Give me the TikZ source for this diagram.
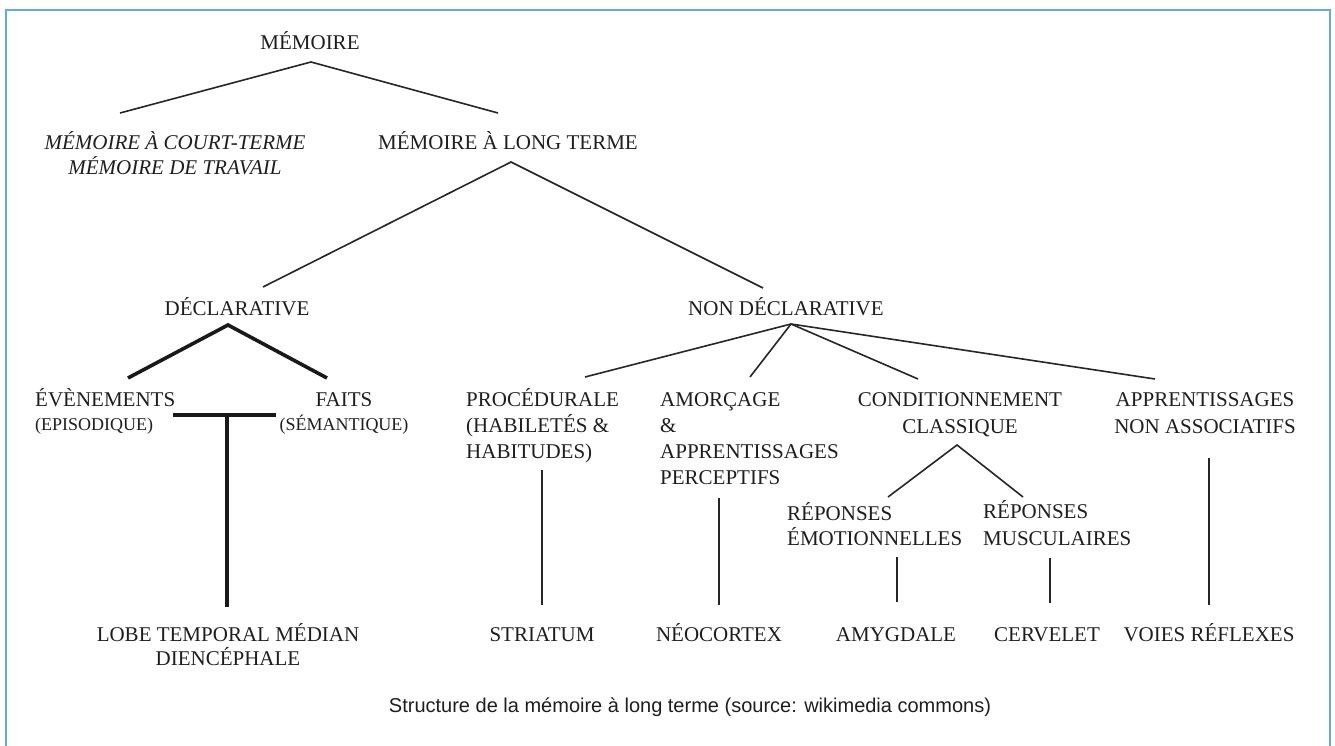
\documentclass[tikz,border=0pt]{standalone}
\usepackage{fontspec}
\setmainfont{Liberation Serif}
\newfontfamily\capfont{Liberation Sans}
\definecolor{framblue}{RGB}{100,174,206}
\definecolor{inkgray}{RGB}{30,30,30}

\begin{document}
\begin{tikzpicture}[x=1pt, y=-1pt,
    lbl/.style={inner sep=0pt, text=inkgray, font=\fontsize{21}{26}\selectfont},
    branch/.style={line width=1.6pt, black!85},
    stem/.style={line width=3.6pt, black!90}]

    % cadre et zone
    \useasboundingbox (0,0) rectangle (1335,746);
    \draw[framblue, line width=2pt] (6,746) -- (6,10) -- (1330,10) -- (1330,746);

    % 1. niveau haut
    \node[lbl, anchor=base] (mem) at (310,50) {MÉMOIRE};
    \node[lbl, anchor=base, align=center, font=\fontsize{21}{25}\selectfont\itshape] (mct) at (175,175)
        {MÉMOIRE À COURT-TERME\\MÉMOIRE DE TRAVAIL};
    \node[lbl, anchor=base] (mlt) at (508,150) {MÉMOIRE À LONG TERME};

    \draw[branch] ([shift={(-190,63)}]mem.base) -- ([shift={(1,12)}]mem.base) -- ([shift={(188,63)}]mem.base);

    % 2. déclarative / non déclarative
    \node[lbl, anchor=base] (decl) at (237,315) {DÉCLARATIVE};
    \node[lbl, anchor=base west] (ndecl) at (688,315) {NON DÉCLARATIVE};

    \draw[branch] ([shift={(-245,137)}]mlt.base) -- ([shift={(3,12)}]mlt.base) -- ([shift={(255,138)}]mlt.base);

    % 3. branche déclarative
    \node[lbl, anchor=base west, align=left, font=\fontsize{21}{24}\selectfont] (evt) at (35,430)
        {ÉVÈNEMENTS\\{\fontsize{18}{24}\selectfont (EPISODIQUE)}};
    \node[lbl, anchor=base, align=center, font=\fontsize{21}{24}\selectfont] (fait) at (344,430)
        {FAITS\\{\fontsize{18}{24}\selectfont (SÉMANTIQUE)}};

    \draw[stem] ([shift={(-109,63)}]decl.base) -- ([shift={(-9,10)}]decl.base) -- ([shift={(90,63)}]decl.base);
    \draw[stem] ([shift={(138,-15)}]evt.base west) -- ([shift={(241,-15)}]evt.base west);

    \node[lbl, anchor=base, align=center, font=\fontsize{21}{24}\selectfont] (lobe) at (228,665) {LOBE TEMPORAL MÉDIAN\\DIENCÉPHALE};
    \draw[stem] ([shift={(192,-15)}]evt.base west) -- ([shift={(-1,-58)}]lobe.base);

    % 4. branche non déclarative
    \node[lbl, anchor=base west, align=left] (proc) at (466,458)
        {PROCÉDURALE\\(HABILETÉS \&\\HABITUDES)};
    \node[lbl, anchor=base west, align=left] (amor) at (660,484)
        {AMORÇAGE\\\&\\APPRENTISSAGES\\PERCEPTIFS};
    \node[lbl, anchor=base, align=center, font=\fontsize{21}{27}\selectfont] (cond) at (960,433) {CONDITIONNEMENT\\CLASSIQUE};
    \node[lbl, anchor=base, align=center, font=\fontsize{21}{27}\selectfont] (appr) at (1205,433) {APPRENTISSAGES\\NON ASSOCIATIFS};

    \foreach \tgt/\dx/\dy in {proc/119/-81, amor/90/-107}
        \draw[branch] ([shift={(103,9)}]ndecl.base west) -- ([shift={(\dx,\dy)}]\tgt.base west);
    \foreach \tgt/\dx in {cond/-42, appr/-50}
        \draw[branch] ([shift={(103,9)}]ndecl.base west) -- ([shift={(\dx,-54)}]\tgt.base);

    % 5. conditionnement classique
    \node[lbl, anchor=base west, align=left, font=\fontsize{21}{25}\selectfont] (remo) at (787,545) {RÉPONSES\\ÉMOTIONNELLES};
    \node[lbl, anchor=base west, align=left, font=\fontsize{21}{27}\selectfont] (rmus) at (983,545) {RÉPONSES\\MUSCULAIRES};

    \draw[branch] ([shift={(101,-48)}]remo.base west) -- ([shift={(-3,12)}]cond.base) -- ([shift={(40,-48)}]rmus.base west);

    % 6. structures cérébrales
    \node[lbl, anchor=base] (stri) at (542,641) {STRIATUM};
    \node[lbl, anchor=base] (neo) at (719,641) {NÉOCORTEX};
    \node[lbl, anchor=base] (amyg) at (896,641) {AMYGDALE};
    \node[lbl, anchor=base] (cerv) at (1047,641) {CERVELET};
    \node[lbl, anchor=base] (voie) at (1209,641) {VOIES RÉFLEXES};

    \draw[branch] ([shift={(76,12)}]proc.base west) -- ([shift={(0,-36)}]stri.base);
    \draw[branch] ([shift={(59,14)}]amor.base west) -- ([shift={(0,-36)}]neo.base);
    \draw[branch] ([shift={(110,12)}]remo.base west) -- ([shift={(1,-39)}]amyg.base);
    \draw[branch] ([shift={(67,13)}]rmus.base west) -- ([shift={(3,-38)}]cerv.base);
    \draw[branch] ([shift={(4,25)}]appr.base) -- ([shift={(0,-36)}]voie.base);

    % 7. légende
    \node[inner sep=0pt, anchor=base, text=inkgray, font=\capfont\fontsize{20}{24}\selectfont] (cap) at (690,712)
        {Structure de la mémoire à long terme (source: wikimedia commons)};

\end{tikzpicture}
\end{document}
